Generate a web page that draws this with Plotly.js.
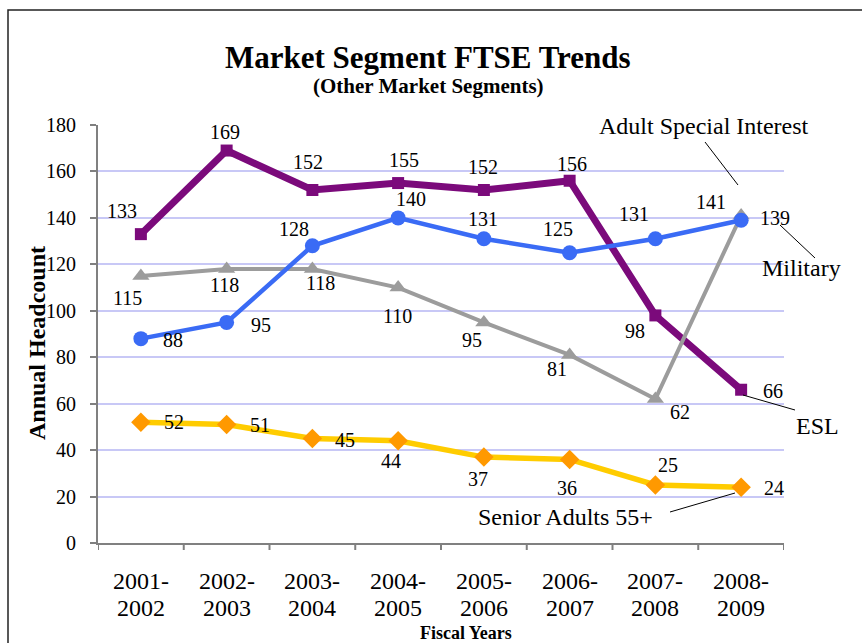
<!DOCTYPE html>
<html>
<head>
<meta charset="utf-8">
<script src="https://cdn.plot.ly/plotly-3.0.1.min.js"></script>
<style>html,body{margin:0;padding:0;background:#fff;}#chart{width:862px;height:643px;}</style>
</head>
<body>
<div id="chart"></div>
<script>
// ---- data ----
const fiscalYears = ["2001-2002","2002-2003","2003-2004","2004-2005","2005-2006","2006-2007","2007-2008","2008-2009"];
const tickTop = ["2001-","2002-","2003-","2004-","2005-","2006-","2007-","2008-"];
const tickBottom = ["2002","2003","2004","2005","2006","2007","2008","2009"];
const esl = [133, 169, 152, 155, 152, 156, 98, 66];
const adultSpecialInterest = [115, 118, 118, 110, 95, 81, 62, 141];
const military = [88, 95, 128, 140, 131, 125, 131, 139];
const seniorAdults = [52, 51, 45, 44, 37, 36, 25, 24];

// ---- label offsets (screen px: dx right, dy down) ----
const eslOff = [[-19,-23],[-2,-19],[-4,-28],[6,-23],[-1,-23],[2,-17],[-20,16],[32,1]];
const asiOff = [[-13,22],[-2,16],[8,14],[-1,28],[-12,18],[-13,14],[25,13],[-30,-14]];
const milOff = [[32,1],[34,3],[-18,-17],[13,-19],[-1,-20],[-12,-24],[-21,-25],[34,-2]];
const senOff = [[33,0],[33,0],[33,1],[-7,20],[-6,22],[-3,29],[13,-20],[33,1]];

const SERIF = "Liberation Serif";
const W = 862, H = 643, L = 98, R = 78, T = 125, B = 100;
const pw = W - L - R, ph = H - T - B;
const px = x => (x - L) / pw;
const py = y => (H - B - y) / ph;

const idx = fiscalYears.map((_, i) => i);

const traces = [
  {x: idx, y: esl, name: "ESL", mode: "lines+markers",
   line: {color: "#7B0A7B", width: 7}, marker: {symbol: "square", size: 12, color: "#7B0A7B"}},
  {x: idx, y: adultSpecialInterest, name: "Adult Special Interest", mode: "lines+markers",
   line: {color: "#9C9C9C", width: 4}, marker: {symbol: "triangle-up", size: 15, color: "#9C9C9C"}},
  {x: idx, y: military, name: "Military", mode: "lines+markers",
   line: {color: "#3A6BF5", width: 4.5}, marker: {symbol: "circle", size: 15, color: "#3A6BF5"}},
  {x: idx, y: seniorAdults, name: "Senior Adults 55+", mode: "lines+markers",
   line: {color: "#FFCC00", width: 5.5}, marker: {symbol: "diamond", size: 15, color: "#FF9900"}}
];

const annotations = [];
function addLabels(vals, offs) {
  vals.forEach((v, i) => {
    annotations.push({x: i, y: v, xref: "x", yref: "y", text: String(v), showarrow: false,
      xshift: offs[i][0], yshift: -offs[i][1], font: {family: SERIF, size: 20, color: "#000"}});
  });
}
addLabels(esl, eslOff);
addLabels(adultSpecialInterest, asiOff);
addLabels(military, milOff);
addLabels(seniorAdults, senOff);

// x tick labels (two rows)
idx.forEach(i => {
  annotations.push({x: i, y: py(581), xref: "x", yref: "paper", text: tickTop[i], showarrow: false,
    xanchor: "center", yanchor: "middle", font: {family: SERIF, size: 24, color: "#000"}});
  annotations.push({x: i, y: py(608), xref: "x", yref: "paper", text: tickBottom[i], showarrow: false,
    xanchor: "center", yanchor: "middle", font: {family: SERIF, size: 24, color: "#000"}});
});

function paperText(text, x, y, size, opts) {
  annotations.push(Object.assign({xref: "paper", yref: "paper", x: px(x), y: py(y), text: text,
    showarrow: false, xanchor: "center", yanchor: "middle",
    font: {family: SERIF, size: size, color: "#000"}}, opts || {}));
}
paperText("<b>Market Segment FTSE Trends</b>", 428, 57, 31);
paperText("<b>(Other Market Segments)</b>", 428, 86, 21);
paperText("<b>Fiscal Years</b>", 466, 633, 18);
paperText("<b>Annual Headcount</b>", 37, 343, 24, {textangle: -90});
paperText("Adult Special Interest", 704, 126, 24);
paperText("Military", 801, 268, 24);
paperText("ESL", 818, 426, 24);
paperText("Senior Adults 55+", 565, 517, 24);

function seg(x0, y0, x1, y1, color, width) {
  return {type: "line", xref: "paper", yref: "paper", x0: px(x0), y0: py(y0), x1: px(x1), y1: py(y1),
    line: {color: color || "#000", width: width || 1}};
}
const shapes = [
  {type: "rect", xref: "paper", yref: "paper", x0: px(8), y0: py(10), x1: px(880), y1: py(680),
   line: {color: "#222", width: 1.5}, fillcolor: "rgba(0,0,0,0)", layer: "below"},
  seg(705, 142, 738, 185),
  seg(780, 225, 815, 258),
  seg(743, 395, 795, 410),
  seg(670, 512, 735, 493)
];

// category boundary ticks on x axis
for (let i = 0; i <= fiscalYears.length; i++) {
  const xb = i - 0.5;
  shapes.push({type: "line", xref: "x", yref: "paper", x0: xb, x1: xb, y0: 0, y1: -7/ph,
    line: {color: "#808080", width: 2}});
}

const layout = {
  width: W, height: H,
  margin: {l: L, r: R, t: T, b: B, pad: 0},
  paper_bgcolor: "#fff", plot_bgcolor: "#fff",
  showlegend: false,
  font: {family: SERIF, color: "#000"},
  xaxis: {
    type: "linear", range: [-0.5, 7.5],
    showticklabels: false,
    showgrid: false, zeroline: false,
    showline: true, linecolor: "#808080", linewidth: 2,
    ticks: ""
  },
  yaxis: {
    range: [0, 180], dtick: 20, tick0: 0,
    showgrid: true, gridcolor: "#C8C8F6", gridwidth: 2,
    zeroline: false, showline: true, linecolor: "#808080", linewidth: 2,
    ticks: "outside", ticklen: 6, tickcolor: "#808080", tickwidth: 2,
    tickfont: {family: SERIF, size: 20, color: "#000"},
    ticklabelstandoff: 10
  },
  annotations: annotations,
  shapes: shapes
};

Plotly.newPlot("chart", traces, layout, {displayModeBar: false, staticPlot: true});
</script>
</body>
</html>
